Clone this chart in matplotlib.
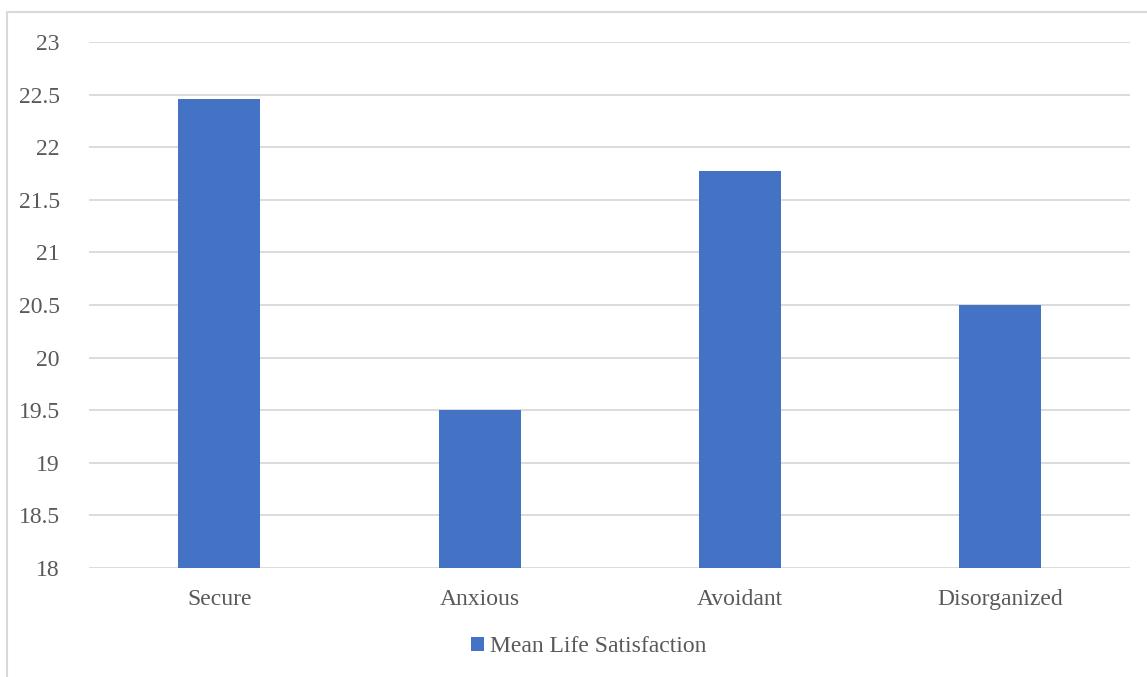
import matplotlib.pyplot as plt
from matplotlib.patches import Rectangle

categories = ['Secure', 'Anxious', 'Avoidant', 'Disorganized']
mean_life_satisfaction = [22.46, 19.5, 21.77, 20.5]
yticks = [18, 18.5, 19, 19.5, 20, 20.5, 21, 21.5, 22, 22.5, 23]

plt.rcParams['font.family'] = ['Liberation Serif', 'DejaVu Serif']

fig = plt.figure(figsize=(11.47, 6.77), dpi=100)
ax = fig.add_axes([0.0776, 0.161, 0.908, 0.777])

# outer chart border (only left and top visible in the crop)
fig.patches.append(Rectangle((7 / 1147, -0.1), 1.2, 1 - 12 / 677 + 0.1,
                             transform=fig.transFigure, fill=False,
                             edgecolor='#d9d9d9', linewidth=1.5))

x = range(len(categories))
ax.bar(x, mean_life_satisfaction, width=0.315, color='#4472c4',
       label='Mean Life Satisfaction', zorder=3)

ax.set_xlim(-0.5, len(categories) - 0.5)
ax.set_ylim(18, 23)
ax.set_yticks(yticks)
ax.set_yticklabels([('%g' % t) for t in yticks])
ax.set_xticks(list(x))
ax.set_xticklabels(categories)
ax.tick_params(axis='both', length=0, labelsize=17, colors='#595959')
ax.tick_params(axis='y', pad=21)
ax.tick_params(axis='x', pad=15)
ax.yaxis.grid(True, color='#d9d9d9', linewidth=1.3, zorder=0)
for s in ax.spines.values():
    s.set_visible(False)

leg = fig.legend(loc='center', bbox_to_anchor=(589 / 1147, 1 - 647 / 677), frameon=False,
                 fontsize=17, handlelength=0.55, handleheight=0.55, handletextpad=0.25)
for t in leg.get_texts():
    t.set_color('#595959')

fig.savefig('out.png', dpi=100)
